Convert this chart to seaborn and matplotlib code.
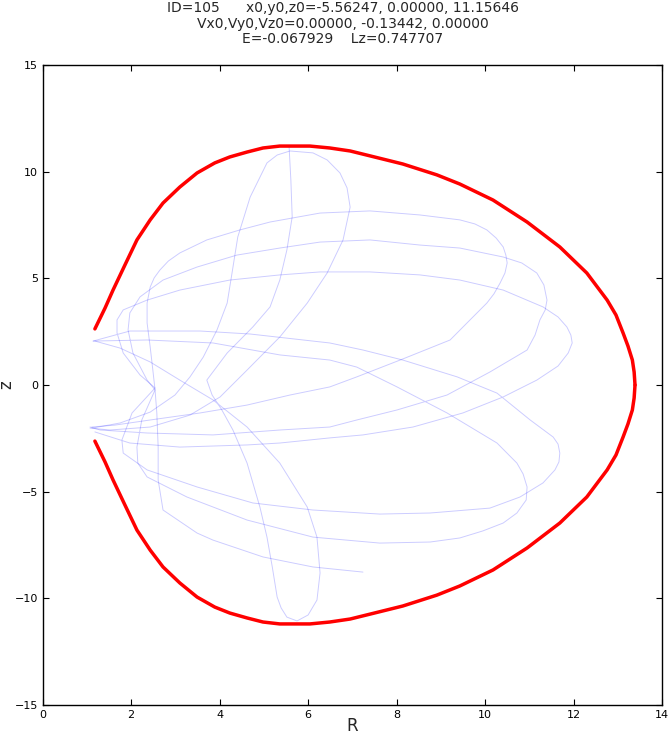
import numpy as np
import pandas as pd
import matplotlib
matplotlib.use("Agg")
import matplotlib.pyplot as plt
import seaborn as sns

# ---- zero-velocity curve (upper and lower halves) ----
zvc_R = [1.18, 1.41, 1.59, 1.86, 2.13, 2.43, 2.72, 3.10, 3.49, 3.89, 4.23, 4.62, 4.98, 5.36,
         5.66, 6.04, 6.49, 6.95, 7.40, 8.14, 8.91, 9.43, 10.18, 10.95, 11.69, 12.30, 12.76,
         12.96, 13.12, 13.23, 13.33, 13.37, 13.39]
zvc_z_upper = [2.63, 3.61, 4.45, 5.63, 6.80, 7.74, 8.53, 9.28, 9.94, 10.41, 10.69, 10.92, 11.11,
               11.20, 11.20, 11.20, 11.11, 10.97, 10.74, 10.36, 9.85, 9.42, 8.67, 7.64, 6.47,
               5.25, 3.98, 3.28, 2.44, 1.83, 1.17, 0.61, 0.0]
zvc_z_lower = [-2.63, -3.61, -4.45, -5.63, -6.80, -7.74, -8.53, -9.28, -9.94, -10.41, -10.69,
               -10.92, -11.11, -11.20, -11.20, -11.20, -11.11, -10.97, -10.74, -10.36, -9.85,
               -9.42, -8.67, -7.64, -6.47, -5.25, -3.98, -3.28, -2.44, -1.83, -1.17, -0.61,
               0.0]

# ---- orbit, traced in pieces ----
orb1_R = [7.24, 6.11, 4.98, 3.85, 3.49, 2.72, 2.61, 2.61, 2.58, 2.54, 2.49, 2.43, 2.36, 2.36,
          2.43, 2.52, 2.65, 2.84, 3.10, 3.71, 4.46, 5.14, 6.27, 7.40, 8.53, 9.43, 9.77, 10.04,
          10.25, 10.41, 10.47, 10.50, 10.45, 10.34, 10.20, 10.04, 9.66, 9.21, 8.08, 7.10, 6.49,
          5.59, 4.62, 3.56, 2.43, 1.63, 1.11]
orb1_z = [-8.77, -8.53, -8.06, -7.27, -6.94, -5.86, -4.45, -2.91, -1.31, -0.23, 0.70, 1.78,
          2.91, 3.84, 4.59, 5.02, 5.39, 5.81, 6.19, 6.80, 7.27, 7.64, 8.06, 8.16, 7.97, 7.74,
          7.55, 7.27, 6.89, 6.47, 6.09, 5.72, 5.25, 4.78, 4.27, 3.84, 3.05, 2.11, 1.17, 0.38,
          -0.09, -0.47, -0.94, -1.31, -1.64, -1.88, -1.97]

orb2_R = [1.14, 2.36, 3.85, 5.36, 6.49, 7.10, 8.01, 9.14, 10.27, 10.72, 10.86, 10.95, 10.93,
          10.72, 10.41, 9.95, 9.43, 8.76, 7.62, 6.11, 4.62, 3.26, 2.36, 2.15, 2.13, 2.24, 2.54,
          2.36, 2.04, 1.93, 1.97, 2.20, 2.72, 3.49, 4.39, 5.36, 6.27, 7.40, 8.53, 9.43, 10.41,
          10.83, 11.17, 11.33, 11.40, 11.36, 11.24, 11.13, 10.95, 10.11, 9.14, 8.01, 7.10,
          6.49, 5.36, 3.85, 2.36, 1.30, 1.07]
orb2_z = [2.06, 2.11, 1.97, 1.41, 1.17, 0.84, -0.09, -1.31, -2.72, -3.66, -4.17, -4.78, -5.39,
          -6.00, -6.47, -6.84, -7.17, -7.36, -7.41, -7.13, -6.33, -5.25, -4.31, -3.66, -2.91,
          -1.64, -0.23, 0.23, 1.50, 2.58, 3.38, 4.13, 4.92, 5.53, 6.09, 6.42, 6.70, 6.80, 6.56,
          6.42, 6.00, 5.72, 5.25, 4.69, 3.98, 3.52, 3.05, 2.34, 1.64, 0.61, -0.47, -1.17,
          -1.64, -1.97, -2.11, -2.34, -2.25, -2.11, -1.97]

orb3_R = [1.14, 1.97, 3.56, 4.69, 6.49, 7.24, 8.14, 9.37, 10.27, 11.02, 11.54, 11.65, 11.69,
          11.67, 11.58, 11.31, 10.79, 10.11, 8.76, 7.62, 6.11, 4.75, 3.49, 2.36, 1.82, 1.79,
          2.02, 2.54, 2.20, 1.82, 1.68, 1.68, 1.82, 2.36, 3.10, 4.23, 5.36, 6.27, 7.40, 8.53,
          9.43, 10.41, 11.31, 11.65, 11.85, 11.94, 11.97, 11.88, 11.65, 11.17, 10.41, 9.50,
          8.37, 7.24, 6.49, 5.36, 4.62, 3.10, 1.97, 1.18]
orb3_z = [2.06, 2.53, 2.53, 2.39, 1.97, 1.64, 1.17, 0.38, -0.38, -1.64, -2.44, -2.77, -3.19,
          -3.61, -3.98, -4.59, -5.25, -5.77, -6.00, -6.05, -5.86, -5.53, -4.78, -3.98, -3.19,
          -2.58, -1.31, -0.14, 0.47, 1.50, 2.44, 3.05, 3.52, 3.98, 4.45, 4.92, 5.16, 5.30,
          5.30, 5.16, 4.92, 4.45, 3.66, 3.19, 2.72, 2.34, 1.97, 1.50, 0.89, 0.23, -0.56,
          -1.31, -1.97, -2.34, -2.48, -2.72, -2.81, -2.91, -2.72, -2.20]

orb4_R = [5.57, 5.61, 5.64, 5.52, 5.36, 5.14, 4.75, 4.17, 3.71, 3.83, 4.05, 4.30, 4.62, 4.91,
          5.07, 5.19, 5.30, 5.39, 5.52, 5.75, 6.00, 6.20, 6.27, 6.20, 5.98, 5.36, 4.62, 3.85,
          3.10, 2.43, 1.75, 1.18]
orb4_z = [11.16, 9.61, 7.88, 6.33, 4.92, 3.66, 2.72, 1.50, 0.23, -0.47, -1.17, -2.11, -3.66,
          -5.72, -7.13, -8.53, -9.94, -10.45, -10.88, -11.06, -10.78, -10.08, -8.81, -7.13,
          -5.72, -3.66, -1.97, -0.70, 0.23, 1.08, 1.73, 2.06]

orb5_R = [1.12, 1.75, 2.43, 2.99, 3.33, 3.63, 3.94, 4.17, 4.28, 4.41, 4.69, 5.07, 5.30, 5.59,
          6.11, 6.43, 6.72, 6.88, 6.95, 6.79, 6.43, 5.98, 5.36, 4.62, 4.01, 3.33, 2.43, 1.52,
          1.07]
orb5_z = [-2.02, -1.78, -1.27, -0.47, 0.38, 1.31, 2.58, 3.84, 5.25, 6.94, 8.81, 10.41, 10.78,
          10.97, 10.88, 10.55, 9.94, 9.24, 8.34, 6.80, 5.25, 3.84, 2.25, 0.70, -0.56, -1.41,
          -1.97, -2.11, -2.02]

title_lines = ["ID=105      x0,y0,z0=-5.56247, 0.00000, 11.15646",
               "Vx0,Vy0,Vz0=0.00000, -0.13442, 0.00000",
               "E=-0.067929    Lz=0.747707"]
x_ticks = [0, 2, 4, 6, 8, 10, 12, 14]
y_ticks = [-15, -10, -5, 0, 5, 10, 15]

# ---- build tables ----
orbit_parts = [(orb1_R, orb1_z), (orb2_R, orb2_z), (orb3_R, orb3_z),
               (orb4_R, orb4_z), (orb5_R, orb5_z)]
orbit_df = pd.concat([pd.DataFrame({"R": r, "z": z, "part": i})
                      for i, (r, z) in enumerate(orbit_parts)], ignore_index=True)
zvc_df = pd.concat([
    pd.DataFrame({"R": zvc_R, "z": zvc_z_upper, "part": 0}),
    pd.DataFrame({"R": zvc_R, "z": zvc_z_lower, "part": 1}),
], ignore_index=True)

sns.set_style("ticks")
plt.rcParams["font.family"] = ["DejaVu Sans"]
plt.rcParams["xtick.direction"] = "in"
plt.rcParams["ytick.direction"] = "in"

fig = plt.figure(figsize=(6.68, 7.36), dpi=100)
ax = fig.add_axes([42.7 / 668, 1 - 705 / 736, (662 - 42.7) / 668, 640 / 736])

sns.lineplot(data=orbit_df, x="R", y="z", units="part", estimator=None, sort=False,
             color="blue", alpha=0.2, linewidth=0.7, ax=ax)
sns.lineplot(data=zvc_df, x="R", y="z", units="part", estimator=None, sort=False,
             color="red", linewidth=2.5, ax=ax)

ax.set_xlim(0, 14)
ax.set_ylim(-15, 15)
ax.set_xticks(x_ticks)
ax.set_yticks(y_ticks)
ax.tick_params(direction="in", top=True, right=True, length=4, width=0.8,
               labelsize=8, colors="black")
for s in ax.spines.values():
    s.set_visible(True)
    s.set_linewidth(1.0)
    s.set_color("black")
ax.set_xlabel("R", fontsize=12, labelpad=-2)
ax.set_ylabel("z", fontsize=12)
ax.yaxis.set_label_coords(-0.045, 0.5)

fig.text(343 / 668, 1 - 1 / 736, "\n".join(title_lines), ha="center", va="top",
         fontsize=10, linespacing=1.15)

fig.savefig("out.png", dpi=100)
